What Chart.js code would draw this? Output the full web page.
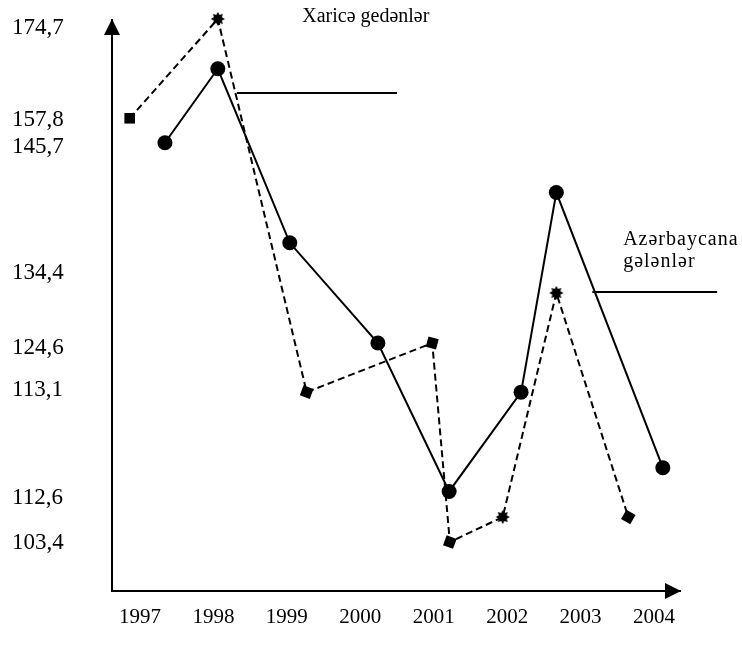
<!DOCTYPE html>
<html lang="az">
<head>
<meta charset="utf-8">
<title>Xaricə gedənlər və Azərbaycana gələnlər</title>
<script src="https://cdn.jsdelivr.net/npm/chart.js@4.4.0/dist/chart.umd.min.js"></script>
<style>
  html, body { margin: 0; padding: 0; background: #fff; }
  #wrap { width: 742px; height: 648px; }
</style>
</head>
<body>
<div id="wrap"><canvas id="chart"></canvas></div>
<script>
// illər (x oxu)
const years = [1997, 1998, 1999, 2000, 2001, 2002, 2003, 2004];
// y oxunun yazıları
const yTickValues = [174.7, 157.8, 145.7, 134.4, 124.6, 113.1, 112.6, 103.4];

// Azərbaycana gələnlər (bütöv xətt)
const arrivalX = [1997.34, 1998.06, 1999.04, 2000.24, 2001.21, 2002.19, 2002.67, 2004.12];
const arrivalY = [147.5, 167.2, 137.1, 125.25, 112.63, 113.09, 141.6, 112.74];

// Xaricə gedənlər (qırıq xətt)
const departX = [1996.86, 1998.06, 1999.27, 2000.98, 2001.22, 2001.94, 2002.67, 2003.65];
const departY = [158.1, 176.4, 113.09, 125.25, 103.6, 108.7, 131.79, 108.7];

// y oxu bərabər bölünməyib: hər yazının oxdakı yeri (aşağıdan, hündürlüyün payı)
const yAxisMin = 93.6, yAxisMax = 176.2;
const yTickSpots = [0.986, 0.825, 0.778, 0.557, 0.4256, 0.352, 0.163, 0.084];

const yAnchors = [{ v: yAxisMin, f: 0 }]
    .concat(yTickValues.map((v, i) => ({ v: v, f: yTickSpots[i] })))
    .concat([{ v: yAxisMax, f: 1 }])
    .sort((a, b) => a.v - b.v);

// hissə-hissə xətti şkala
class PiecewiseScale extends Chart.LinearScale {
    static id = 'piecewise';
    buildTicks() {
        super.buildTicks();
        return yTickValues.map(v => ({ value: v }));
    }
    getPixelForValue(value) {
        if (value === null || isNaN(value)) return NaN;
        let i = 1;
        while (i < yAnchors.length - 1 && value > yAnchors[i].v) i++;
        const p = yAnchors[i - 1], q = yAnchors[i];
        return this.getPixelForDecimal(p.f + (value - p.v) * (q.f - p.f) / (q.v - p.v));
    }
    getValueForPixel(pixel) {
        const d = this.getDecimalForPixel(pixel);
        let i = 1;
        while (i < yAnchors.length - 1 && d > yAnchors[i].f) i++;
        const p = yAnchors[i - 1], q = yAnchors[i];
        return p.v + (d - p.f) * (q.v - p.v) / (q.f - p.f);
    }
}
Chart.register(PiecewiseScale);

// izah xətləri və yazılar (qrafikin vahidlərində)
const leaderLines = [
    { from: [1998.32, 162.76], to: [2000.50, 162.76] },
    { from: [2003.16, 131.92], to: [2004.86, 131.92] }
];
const captions = [
    { text: 'Xaricə gedənlər', at: [1999.21, 176.76], spacing: 0 },
    { text: 'Azərbaycana', at: [2003.58, 137.36], spacing: 1 },
    { text: 'gələnlər', at: [2003.58, 135.39], spacing: 1 }
];

// 8 guşəli ulduz nişanı
function makeStar(r) {
    const c = document.createElement('canvas');
    c.width = c.height = 2 * r + 2;
    const g = c.getContext('2d');
    g.translate(r + 1, r + 1);
    g.beginPath();
    for (let i = 0; i < 16; i++) {
        const rad = i % 2 ? r * 0.62 : r;
        const ang = i * Math.PI / 8 - Math.PI / 2;
        g.lineTo(Math.cos(ang) * rad, Math.sin(ang) * rad);
    }
    g.closePath();
    g.fillStyle = '#000';
    g.fill();
    return c;
}
const star = makeStar(7);
const starAt = [1, 5, 6];
const rectTurn = [0, 0, 20, 15, 20, 0, 0, 30];

const FONT = 'Liberation Serif';

const arrowsPlugin = {
    id: 'arrows',
    afterDraw(chart) {
        const { ctx, chartArea: a } = chart;
        ctx.save();
        ctx.fillStyle = '#000';
        ctx.beginPath();
        ctx.moveTo(a.left, a.top - 1);
        ctx.lineTo(a.left - 8, a.top + 15);
        ctx.lineTo(a.left + 8, a.top + 15);
        ctx.closePath();
        ctx.fill();
        ctx.beginPath();
        ctx.moveTo(a.right + 1, a.bottom);
        ctx.lineTo(a.right - 15, a.bottom - 8);
        ctx.lineTo(a.right - 15, a.bottom + 8);
        ctx.closePath();
        ctx.fill();
        ctx.restore();
    }
};

const notesPlugin = {
    id: 'notes',
    afterDatasetsDraw(chart) {
        const { ctx, scales: { x, y } } = chart;
        ctx.save();
        ctx.strokeStyle = '#000';
        ctx.lineWidth = 2;
        leaderLines.forEach(l => {
            ctx.beginPath();
            ctx.moveTo(x.getPixelForValue(l.from[0]), y.getPixelForValue(l.from[1]));
            ctx.lineTo(x.getPixelForValue(l.to[0]), y.getPixelForValue(l.to[1]));
            ctx.stroke();
        });
        ctx.fillStyle = '#000';
        ctx.font = '20px "' + FONT + '"';
        ctx.textAlign = 'left';
        ctx.textBaseline = 'middle';
        captions.forEach(c => {
            ctx.letterSpacing = c.spacing + 'px';
            ctx.fillText(c.text, x.getPixelForValue(c.at[0]), y.getPixelForValue(c.at[1]));
        });
        ctx.restore();
    }
};

new Chart(document.getElementById('chart'), {
    type: 'line',
    data: {
        datasets: [{
            label: 'Azərbaycana gələnlər',
            data: arrivalX.map((v, i) => ({ x: v, y: arrivalY[i] })),
            borderColor: '#000',
            borderWidth: 2,
            pointStyle: 'circle',
            pointRadius: 7.5,
            pointBackgroundColor: '#000',
            pointBorderWidth: 0,
            tension: 0,
            clip: false
        }, {
            label: 'Xaricə gedənlər',
            data: departX.map((v, i) => ({ x: v, y: departY[i] })),
            borderColor: '#000',
            borderWidth: 2,
            borderDash: [7, 4],
            pointStyle: ctx => starAt.includes(ctx.dataIndex) ? star : 'rect',
            pointRotation: ctx => rectTurn[ctx.dataIndex] || 0,
            pointRadius: 7.5,
            pointBackgroundColor: '#000',
            pointBorderWidth: 0,
            tension: 0,
            clip: false
        }]
    },
    options: {
        responsive: true,
        maintainAspectRatio: false,
        animation: false,
        events: [],
        layout: { padding: { top: 20, right: 62, left: 12, bottom: 0 } },
        plugins: {
            legend: { display: false },
            tooltip: { enabled: false }
        },
        scales: {
            x: {
                type: 'linear',
                min: 1996.619,
                max: 2004.354,
                afterBuildTicks: s => { s.ticks = years.map(v => ({ value: v })); },
                afterFit: s => { s.height = 57; },
                grid: { display: false },
                border: { display: true, color: '#000', width: 2 },
                ticks: {
                    padding: 6,
                    autoSkip: false,
                    maxRotation: 0,
                    color: '#000',
                    font: { family: FONT, size: 21 },
                    callback: v => String(v)
                }
            },
            y: {
                type: 'piecewise',
                min: yAxisMin,
                max: yAxisMax,
                afterFit: s => { s.width = 100; },
                grid: { display: false },
                border: { display: true, color: '#000', width: 2 },
                ticks: {
                    padding: 0,
                    crossAlign: 'far',
                    autoSkip: false,
                    color: '#000',
                    font: { family: FONT, size: 23 },
                    callback: v => v.toFixed(1).replace('.', ',')
                }
            }
        }
    },
    plugins: [arrowsPlugin, notesPlugin]
});
</script>
</body>
</html>
